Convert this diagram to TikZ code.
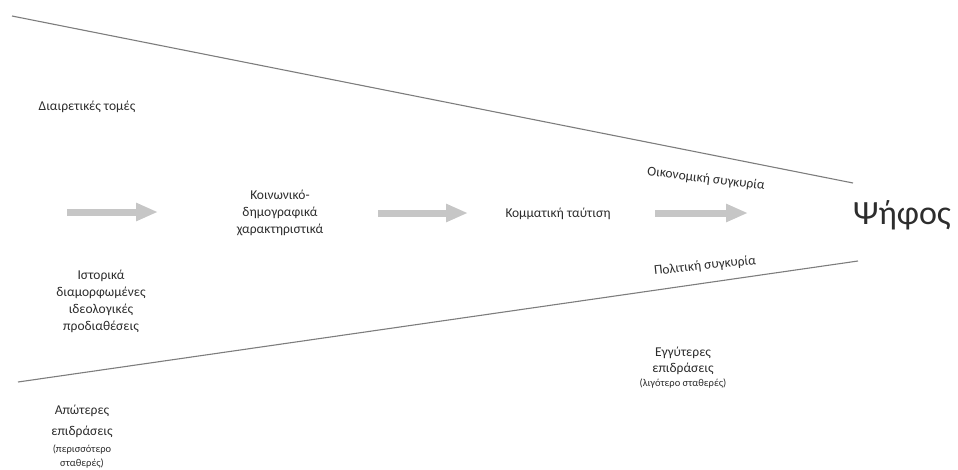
\documentclass[tikz,border=0pt]{standalone}
\usepackage{fontspec}
\setmainfont{Carlito}
\usetikzlibrary{arrows.meta}
\definecolor{txtgray}{RGB}{45,45,45}
\definecolor{linegray}{RGB}{125,125,125}
\definecolor{arrowgray}{RGB}{198,198,198}
\newcommand{\smallsz}{\fontsize{10.5}{14}\selectfont}
\tikzset{bound/.style={linegray, line width=1.1pt},
  flow/.style={arrowgray, line width=7pt, -{Triangle[width=17pt,length=22pt]}},
  txt/.style={txtgray, align=center, inner sep=0pt, font=\fontsize{13.5}{17}\selectfont}}

\begin{document}
\begin{tikzpicture}[x=1pt,y=-1pt]
   \useasboundingbox (0,0) rectangle (958,469);
   % funnel
   \coordinate (tl) at (12,16);
   \coordinate (tr) at (853,183);
   \coordinate (bl) at (18,382);
   \coordinate (br) at (858,261);
   \draw[bound] (tl) -- (tr);
   \draw[bound] (bl) -- (br);
   % stages
   \node[txt] (divide) at (87,107) {Διαιρετικές τομές};
   \node[txt] (socio) at (280,213) {Κοινωνικό-\\δημογραφικά\\χαρακτηριστικά};
   \node[txt] (party) at (558,214) {Κομματική ταύτιση};
   \node[txtgray, inner sep=0pt, font=\fontsize{34}{40}\selectfont] (vote) at (902,215) {Ψήφος};
   \node[txt, rotate=-7] (econ) at (706,179) {Οικονομική συγκυρία};
   \node[txt, rotate=6] (polit) at (705,266) {Πολιτική συγκυρία};
   \node[txt] (hist) at (101,301) {Ιστορικά\\διαμορφωμένες\\ιδεολογικές\\προδιαθέσεις};
   \node[txt, anchor=north, font=\fontsize{13.5}{21}\selectfont] (far) at (82,405)
     {Απώτερες\\επιδράσεις\\[-4pt]\smallsz (περισσότερο\\[-7pt]\smallsz σταθερές)};
   \node[txt, anchor=north, font=\fontsize{13.5}{16}\selectfont] (near) at (683,347)
     {Εγγύτερες\\επιδράσεις\\[-2pt]\smallsz (λιγότερο σταθερές)};
   % arrows
   \coordinate (a1s) at (67,212);  \coordinate (a1e) at (158,212);
   \coordinate (a2s) at (378,213); \coordinate (a2e) at (468,213);
   \coordinate (a3s) at (655,213); \coordinate (a3e) at (748,213);
   \draw[flow] (a1s) -- (a1e);
   \draw[flow] (a2s) -- (a2e);
   \draw[flow] (a3s) -- (a3e);
\end{tikzpicture}
\end{document}
